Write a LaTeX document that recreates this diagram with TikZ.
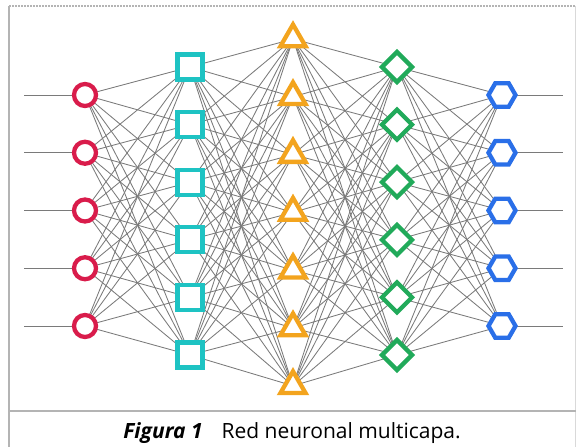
\documentclass[tikz,border=0pt]{standalone}
\usepackage{fontspec}
\setmainfont{Open Sans}
\usetikzlibrary{shapes.geometric}
\pgfdeclarelayer{background}
\pgfsetlayers{background,main}

\definecolor{inred}{HTML}{D91C4B}
\definecolor{sqcyan}{HTML}{1EC3C3}
\definecolor{triorange}{HTML}{F3A41E}
\definecolor{diagreen}{HTML}{21AA5A}
\definecolor{outblue}{HTML}{2A6FE8}
\definecolor{framegray}{HTML}{B4B4B4}

\tikzset{
	neuron/.style={fill=white, line width=4.3pt, inner sep=0pt, outer sep=0pt},
	link/.style={draw=black!52, line width=0.85pt},
}

\begin{document}
\begin{tikzpicture}[x=1pt, y=-1pt]
		%%%%% START %%%%%
		\useasboundingbox (0, 0) rectangle (576, 447);
		
		% frame and caption box
		\draw[line width=1.6pt, color=framegray, dash pattern=on 2pt off 1pt] (9, 6) -- (576, 6);
		\draw[line width=2.4pt, color=framegray] (9, 6) -- (9, 447);
		\draw[line width=0.8pt, color=black!15] (575, 6) -- (575, 447);
		\draw[line width=2.4pt, color=framegray] (9, 411) -- (576, 411);
		
		\node[font=\fontsize{21}{25}\selectfont, anchor=base] (cap) at (292, 438)
			{\textbf{\textit{Figura 1}}\hspace{0.9em}Red neuronal multicapa.};
		
		% layers
		\foreach \k in {1,...,5} {
			\node[neuron, circle, draw=inred, minimum size=22pt] (a\k) at (85, {95+57.75*(\k-1)}) {};
			\node[neuron, regular polygon, regular polygon sides=6, draw=outblue, minimum size=27pt] (e\k) at (502, {95+57.75*(\k-1)}) {};
			\coordinate (in\k) at (24, {95+57.75*(\k-1)});
			\coordinate (out\k) at (563, {95+57.75*(\k-1)});
		}
		\foreach \k in {1,...,6} {
			\node[neuron, rectangle, draw=sqcyan, minimum size=25pt] (b\k) at (190, {67+57.6*(\k-1)}) {};
			\node[neuron, diamond, draw=diagreen, minimum size=30pt] (d\k) at (397, {67+57.6*(\k-1)}) {};
		}
		\foreach \k in {1,...,7}
			\node[neuron, regular polygon, regular polygon sides=3, draw=triorange, minimum size=29pt] (c\k) at (293, {39+57.8*(\k-1)}) {};
		
		% connections
		\begin{pgfonlayer}{background}
			\foreach \i in {1,...,5} {
				\draw[link] (in\i) -- (a\i);
				\draw[link] (e\i) -- (out\i);
				\foreach \j in {1,...,6} {
					\draw[link] (a\i.center) -- (b\j.center);
					\draw[link] (d\j.center) -- (e\i.center);
				}
			}
			\foreach \i in {1,...,6}
				\foreach \j in {1,...,7} {
					\draw[link] (b\i.center) -- (c\j.center);
					\draw[link] (c\j.center) -- (d\i.center);
				}
		\end{pgfonlayer}
		
		%%%%% END %%%%%
\end{tikzpicture}
\end{document}
